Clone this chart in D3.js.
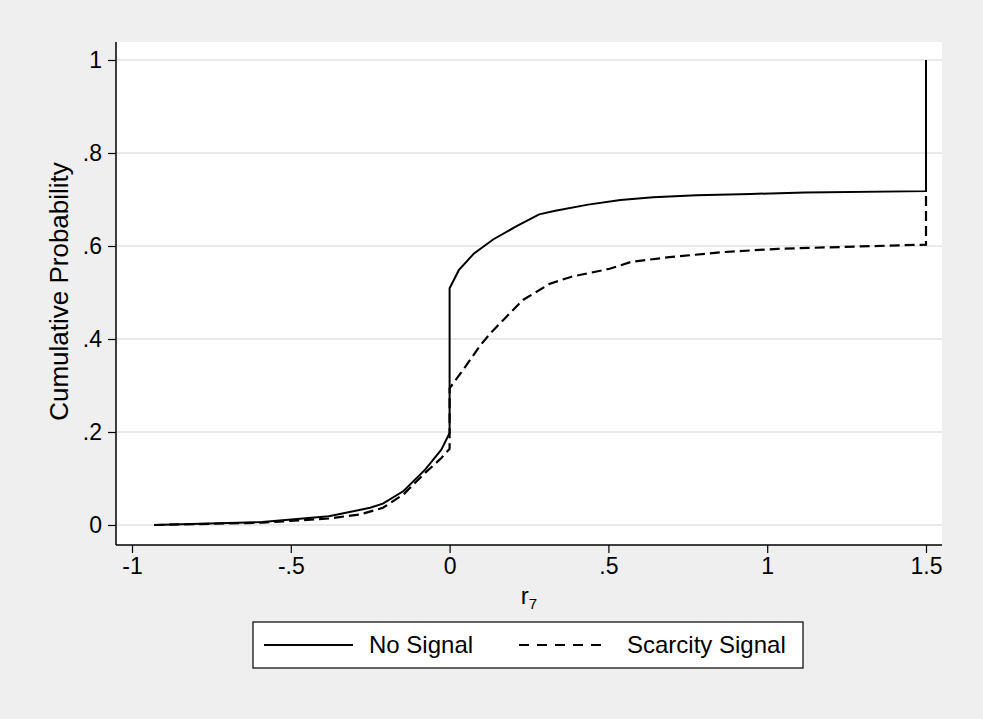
<!DOCTYPE html>
<html>
<head>
<meta charset="utf-8">
<script src="https://cdn.jsdelivr.net/npm/d3@7"></script>
<style>
  body { margin: 0; background: #efefef; }
  svg { display: block; font-family: "Liberation Sans", Arial, sans-serif; }
</style>
</head>
<body>
<svg id="chart"></svg>
<script>
// cumulative distributions (repeated x = vertical jump)
const noSignalX = [-0.93, -0.59, -0.38, -0.25, -0.21, -0.145, -0.077, -0.026, 0, 0, 0.029, 0.077, 0.137, 0.214, 0.282, 0.333, 0.436, 0.538, 0.641, 0.777, 0.948, 1.119, 1.5, 1.5];
const noSignalP = [0, 0.0064, 0.019, 0.037, 0.046, 0.073, 0.119, 0.162, 0.198, 0.509, 0.548, 0.584, 0.614, 0.644, 0.668, 0.676, 0.689, 0.699, 0.705, 0.709, 0.712, 0.715, 0.718, 1.0];
const scarcityX = [-0.93, -0.59, -0.38, -0.28, -0.21, -0.145, -0.077, -0.026, 0, 0, 0.043, 0.094, 0.128, 0.179, 0.231, 0.265, 0.316, 0.384, 0.504, 0.572, 0.692, 0.863, 1.034, 1.29, 1.5, 1.5];
const scarcityP = [0, 0.005, 0.014, 0.023, 0.037, 0.066, 0.112, 0.144, 0.164, 0.294, 0.334, 0.384, 0.412, 0.448, 0.484, 0.498, 0.519, 0.534, 0.551, 0.566, 0.576, 0.587, 0.594, 0.599, 0.603, 0.712];

const xTicks = [-1, -0.5, 0, 0.5, 1, 1.5];
const xTickLabels = ["-1", "-.5", "0", ".5", "1", "1.5"];
const yTicks = [0, 0.2, 0.4, 0.6, 0.8, 1];
const yTickLabels = ["0", ".2", ".4", ".6", ".8", "1"];
const seriesNames = ["No Signal", "Scarcity Signal"];

const width = 983, height = 719;
const plot = { left: 116, right: 942, top: 42, bottom: 545 };

const svg = d3.select("#chart").attr("width", width).attr("height", height);

svg.append("rect").attr("width", width).attr("height", height).attr("fill", "#efefef");
svg.append("rect")
  .attr("x", plot.left).attr("y", plot.top)
  .attr("width", plot.right - plot.left).attr("height", plot.bottom - plot.top)
  .attr("fill", "#fff");

const x = d3.scaleLinear().domain([-1, 1.5]).range([132, 926]);
const y = d3.scaleLinear().domain([0, 1]).range([525, 60]);

// gridlines
svg.append("g").selectAll("line").data(yTicks).join("line")
  .attr("x1", plot.left).attr("x2", plot.right)
  .attr("y1", d => y(d)).attr("y2", d => y(d))
  .attr("stroke", "#eaeaea").attr("stroke-width", 2);

// axes
const yAxis = d3.axisLeft(y).tickValues(yTicks)
  .tickFormat((d, i) => yTickLabels[i]).tickSize(8).tickPadding(6);
const gy = svg.append("g").attr("transform", `translate(${plot.left},0)`).call(yAxis);
gy.select(".domain").attr("d", `M0,${plot.top}V${plot.bottom}`).attr("stroke", "#000").attr("stroke-width", 1.5);

const xAxis = d3.axisBottom(x).tickValues(xTicks)
  .tickFormat((d, i) => xTickLabels[i]).tickSize(8).tickPadding(5);
const gx = svg.append("g").attr("transform", `translate(0,${plot.bottom})`).call(xAxis);
gx.select(".domain").attr("d", `M${plot.left},0H${plot.right}`).attr("stroke", "#000").attr("stroke-width", 1.5);

svg.selectAll(".tick line").attr("stroke", "#000").attr("stroke-width", 1.2);
svg.selectAll(".tick text").attr("fill", "#000").style("font-size", "23px").style("font-family", "Liberation Sans, Arial, sans-serif");

// axis titles
svg.append("text")
  .attr("transform", `translate(68,${(plot.top + plot.bottom) / 2 - 2}) rotate(-90)`)
  .attr("text-anchor", "middle").style("font-size", "26px").text("Cumulative Probability");

const xt = svg.append("text").attr("x", 529).attr("y", 604).attr("text-anchor", "middle").style("font-size", "24px");
xt.append("tspan").text("r");
xt.append("tspan").attr("dy", 5).style("font-size", "15px").text("7");

// curves
const line = d3.line().x(d => x(d[0])).y(d => y(d[1]));
svg.append("path").datum(d3.zip(noSignalX, noSignalP))
  .attr("d", line).attr("fill", "none").attr("stroke", "#000").attr("stroke-width", 2);
svg.append("path").datum(d3.zip(scarcityX, scarcityP))
  .attr("d", line).attr("fill", "none").attr("stroke", "#000").attr("stroke-width", 2.2)
  .attr("stroke-dasharray", "10,5");

// legend
const lg = svg.append("g");
lg.append("rect").attr("x", 253).attr("y", 622).attr("width", 550).attr("height", 46)
  .attr("fill", "#fff").attr("stroke", "#000").attr("stroke-width", 1.2);
lg.append("line").attr("x1", 264).attr("x2", 353).attr("y1", 645).attr("y2", 645)
  .attr("stroke", "#000").attr("stroke-width", 2);
lg.append("text").attr("x", 369).attr("y", 653).style("font-size", "24px").text(seriesNames[0]);
lg.append("line").attr("x1", 519).attr("x2", 602).attr("y1", 645).attr("y2", 645)
  .attr("stroke", "#000").attr("stroke-width", 2).attr("stroke-dasharray", "10,8");
lg.append("text").attr("x", 627).attr("y", 653).style("font-size", "24px").text(seriesNames[1]);
</script>
</body>
</html>
